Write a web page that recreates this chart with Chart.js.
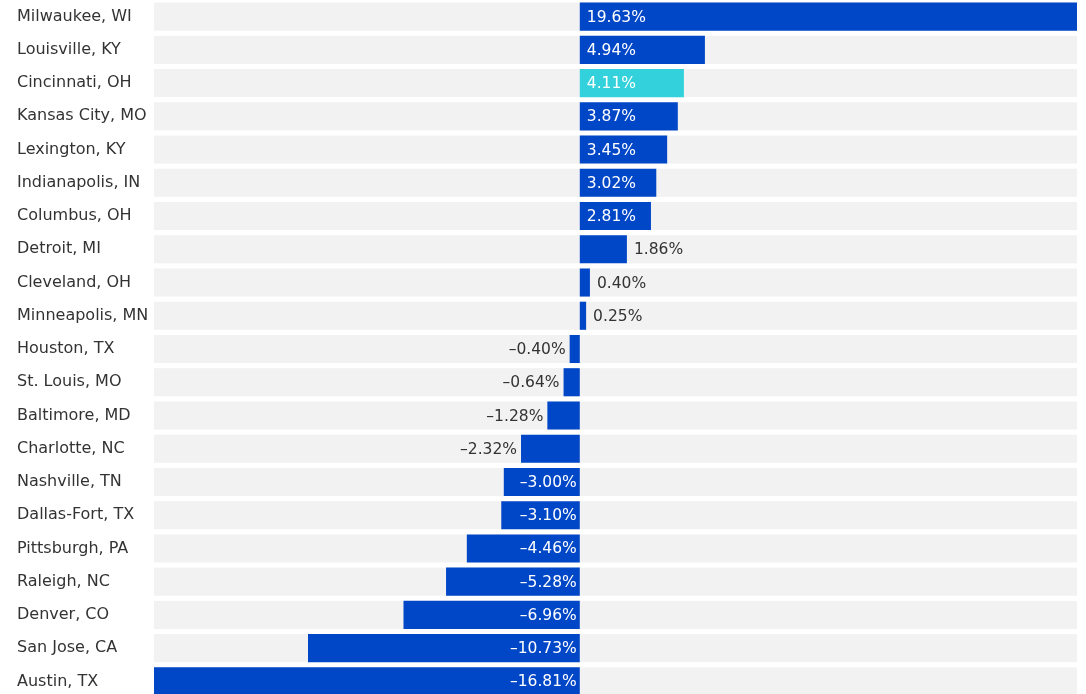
<!DOCTYPE html>
<html>
<head>
<meta charset="utf-8">
<script src="https://cdn.jsdelivr.net/npm/chart.js@4"></script>
<style>
  html, body { margin: 0; padding: 0; background: #fff; overflow: hidden; }
  #wrap { width: 1086px; height: 698px; position: relative; }
</style>
</head>
<body>
<div id="wrap"><canvas id="myChart"></canvas></div>
<script>
const cities = ['Milwaukee, WI', 'Louisville, KY', 'Cincinnati, OH', 'Kansas City, MO', 'Lexington, KY',
    'Indianapolis, IN', 'Columbus, OH', 'Detroit, MI', 'Cleveland, OH', 'Minneapolis, MN', 'Houston, TX',
    'St. Louis, MO', 'Baltimore, MD', 'Charlotte, NC', 'Nashville, TN', 'Dallas-Fort, TX', 'Pittsburgh, PA',
    'Raleigh, NC', 'Denver, CO', 'San Jose, CA', 'Austin, TX'];
const change = [19.63, 4.94, 4.11, 3.87, 3.45, 3.02, 2.81, 1.86, 0.40, 0.25, -0.40,
    -0.64, -1.28, -2.32, -3.00, -3.10, -4.46, -5.28, -6.96, -10.73, -16.81];
const highlight = 'Cincinnati, OH';

const blue = '#0047c7';
const cyan = '#33d1db';
const font = '"DejaVu Sans", sans-serif';

function fmt(v) {
    return (v < 0 ? '\u2013' : '') + Math.abs(v).toFixed(2) + '%';
}

// grey band behind every row
const rowBands = {
    id: 'rowBands',
    beforeDatasetsDraw(chart) {
        const { ctx, chartArea, scales } = chart;
        const meta = chart.getDatasetMeta(0);
        ctx.save();
        ctx.fillStyle = '#f2f2f2';
        meta.data.forEach((bar, i) => {
            const y = scales.y.getPixelForValue(i);
            const h = bar.height;
            ctx.fillRect(chartArea.left, y - h / 2, chartArea.right - chartArea.left, h);
        });
        ctx.restore();
    }
};

// value labels, inside the bar if they fit
const valueLabels = {
    id: 'valueLabels',
    afterDatasetsDraw(chart) {
        const { ctx, scales } = chart;
        const meta = chart.getDatasetMeta(0);
        const zero = scales.x.getPixelForValue(0);
        ctx.save();
        ctx.font = '15.5px ' + font;
        ctx.textBaseline = 'middle';
        meta.data.forEach((bar, i) => {
            const v = change[i];
            const txt = fmt(v);
            const w = ctx.measureText(txt).width;
            const barW = Math.abs(bar.x - zero);
            const inside = w + 10 < barW;
            if (v >= 0) {
                ctx.textAlign = 'left';
                ctx.fillStyle = inside ? '#ffffff' : '#333333';
                ctx.fillText(txt, inside ? zero + 7 : bar.x + 7, bar.y + 1);
            } else {
                ctx.textAlign = 'right';
                ctx.fillStyle = inside ? '#ffffff' : '#333333';
                ctx.fillText(txt, inside ? zero - 3 : bar.x - 4, bar.y + 1);
            }
        });
        ctx.restore();
    }
};

const ctx = document.getElementById('myChart').getContext('2d');
const myChart = new Chart(ctx, {
    type: 'bar',
    data: {
        labels: cities,
        datasets: [{
            data: change,
            backgroundColor: cities.map(c => c === highlight ? cyan : blue),
            borderWidth: 0,
            barPercentage: 0.845,
            categoryPercentage: 1
        }]
    },
    options: {
        indexAxis: 'y',
        responsive: true,
        maintainAspectRatio: false,
        animation: false,
        layout: { padding: { left: 17, right: 9, top: 0, bottom: 0 } },
        plugins: {
            legend: { display: false },
            tooltip: { enabled: false }
        },
        scales: {
            x: {
                display: false,
                min: -16.81,
                max: 19.63
            },
            y: {
                grid: { display: false, drawTicks: false },
                border: { display: false },
                afterFit(scale) {
                    scale.width = 137;
                    scale.paddingTop = 0;
                    scale.paddingBottom = 0;
                },
                ticks: {
                    crossAlign: 'far',
                    padding: 0,
                    color: '#333333',
                    font: { family: font, size: 16 }
                }
            }
        }
    },
    plugins: [rowBands, valueLabels]
});
</script>
</body>
</html>
